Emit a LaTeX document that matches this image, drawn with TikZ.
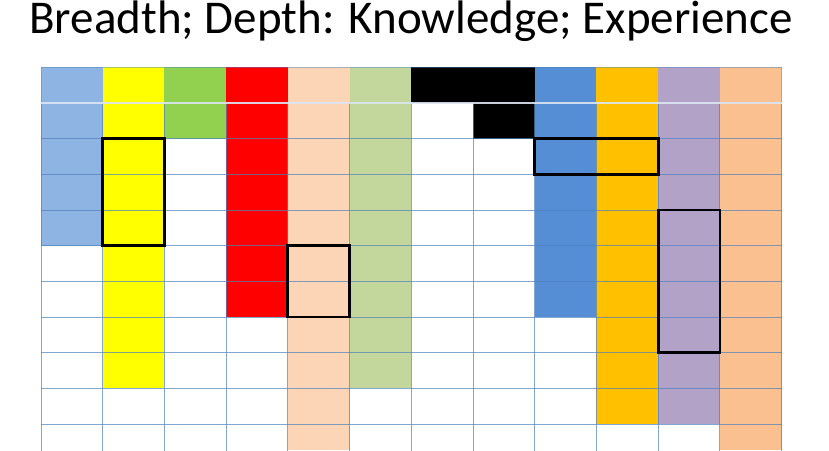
\documentclass[tikz,border=0pt]{standalone}
\usepackage{fontspec}
\setmainfont{Carlito}
\definecolor{cA}{HTML}{8EB4E3}
\definecolor{cB}{HTML}{FFFF00}
\definecolor{cC}{HTML}{92D050}
\definecolor{cD}{HTML}{FF0000}
\definecolor{cE}{HTML}{FBD5B5}
\definecolor{cF}{HTML}{C3D69B}
\definecolor{cG}{HTML}{000000}
\definecolor{cH}{HTML}{000000}
\definecolor{cI}{HTML}{558ED5}
\definecolor{cJ}{HTML}{FFC000}
\definecolor{cK}{HTML}{B3A2C7}
\definecolor{cL}{HTML}{FAC090}
\definecolor{gridblue}{HTML}{4F81BD}
\definecolor{gridlight}{HTML}{DCE6F2}
\tikzset{
  gridline/.style={draw=gridblue, line width=0.9pt, opacity=0.7},
  headline/.style={draw=gridlight, line width=1.2pt, opacity=0.9},
  hibox/.style={draw=black, line width=2.8pt, line join=miter},
  title/.style={font=\fontsize{47}{52}\selectfont, anchor=base, inner sep=0pt,
    text height=32pt, text depth=11pt}
}
\begin{document}
\begin{tikzpicture}[x=1pt, y=-1pt]
\useasboundingbox (0,0) rectangle (829,450);
\def\xo{41}
\def\cw{61.72}
\def\yo{67.3}
\def\rh{35.67}
% column fills
\foreach \c/\col/\n in {0/cA/5, 1/cB/9, 2/cC/2, 3/cD/7, 4/cE/11, 5/cF/9, 6/cG/1, 7/cH/2, 8/cI/7, 9/cJ/10, 10/cK/10, 11/cL/11}{
  \fill[\col] ({\xo+\c*\cw},\yo) rectangle ({\xo+(\c+1)*\cw},{min(\yo+\n*\rh,450)});
}
% grid
\begin{scope}
\clip (0,0) rectangle (829,450);
\foreach \c in {0,...,12}{
  \draw[gridline] ({\xo+\c*\cw},{\yo+\rh}) -- ({\xo+\c*\cw},460);
}
\foreach \c in {0,12}{
  \draw[gridline, opacity=0.4] ({\xo+\c*\cw},\yo) -- ({\xo+\c*\cw},{\yo+\rh});
}
\foreach \r in {2,...,10}{
  \draw[gridline] (\xo,{\yo+\r*\rh}) -- ({\xo+12*\cw},{\yo+\r*\rh});
}
\draw[headline] (\xo,{\yo+\rh}) -- ({\xo+12*\cw},{\yo+\rh});
\draw[draw=gridblue, line width=0.9pt, opacity=0.45] (\xo,\yo) -- ({\xo+12*\cw},\yo);
\end{scope}
% highlight boxes
\draw[hibox] ({\xo+1*\cw},{\yo+2*\rh}) rectangle ({\xo+2*\cw},{\yo+5*\rh});
\draw[hibox] ({\xo+4*\cw},{\yo+5*\rh}) rectangle ({\xo+5*\cw},{\yo+7*\rh});
\draw[hibox] ({\xo+8*\cw},{\yo+2*\rh}) rectangle ({\xo+10*\cw},{\yo+3*\rh});
\draw[hibox] ({\xo+10*\cw},{\yo+4*\rh}) rectangle ({\xo+11*\cw},{\yo+8*\rh});
% title
\node[title] (ttl) at (411,33) {Breadth; Depth: Knowledge; Experience};
\end{tikzpicture}
\end{document}
